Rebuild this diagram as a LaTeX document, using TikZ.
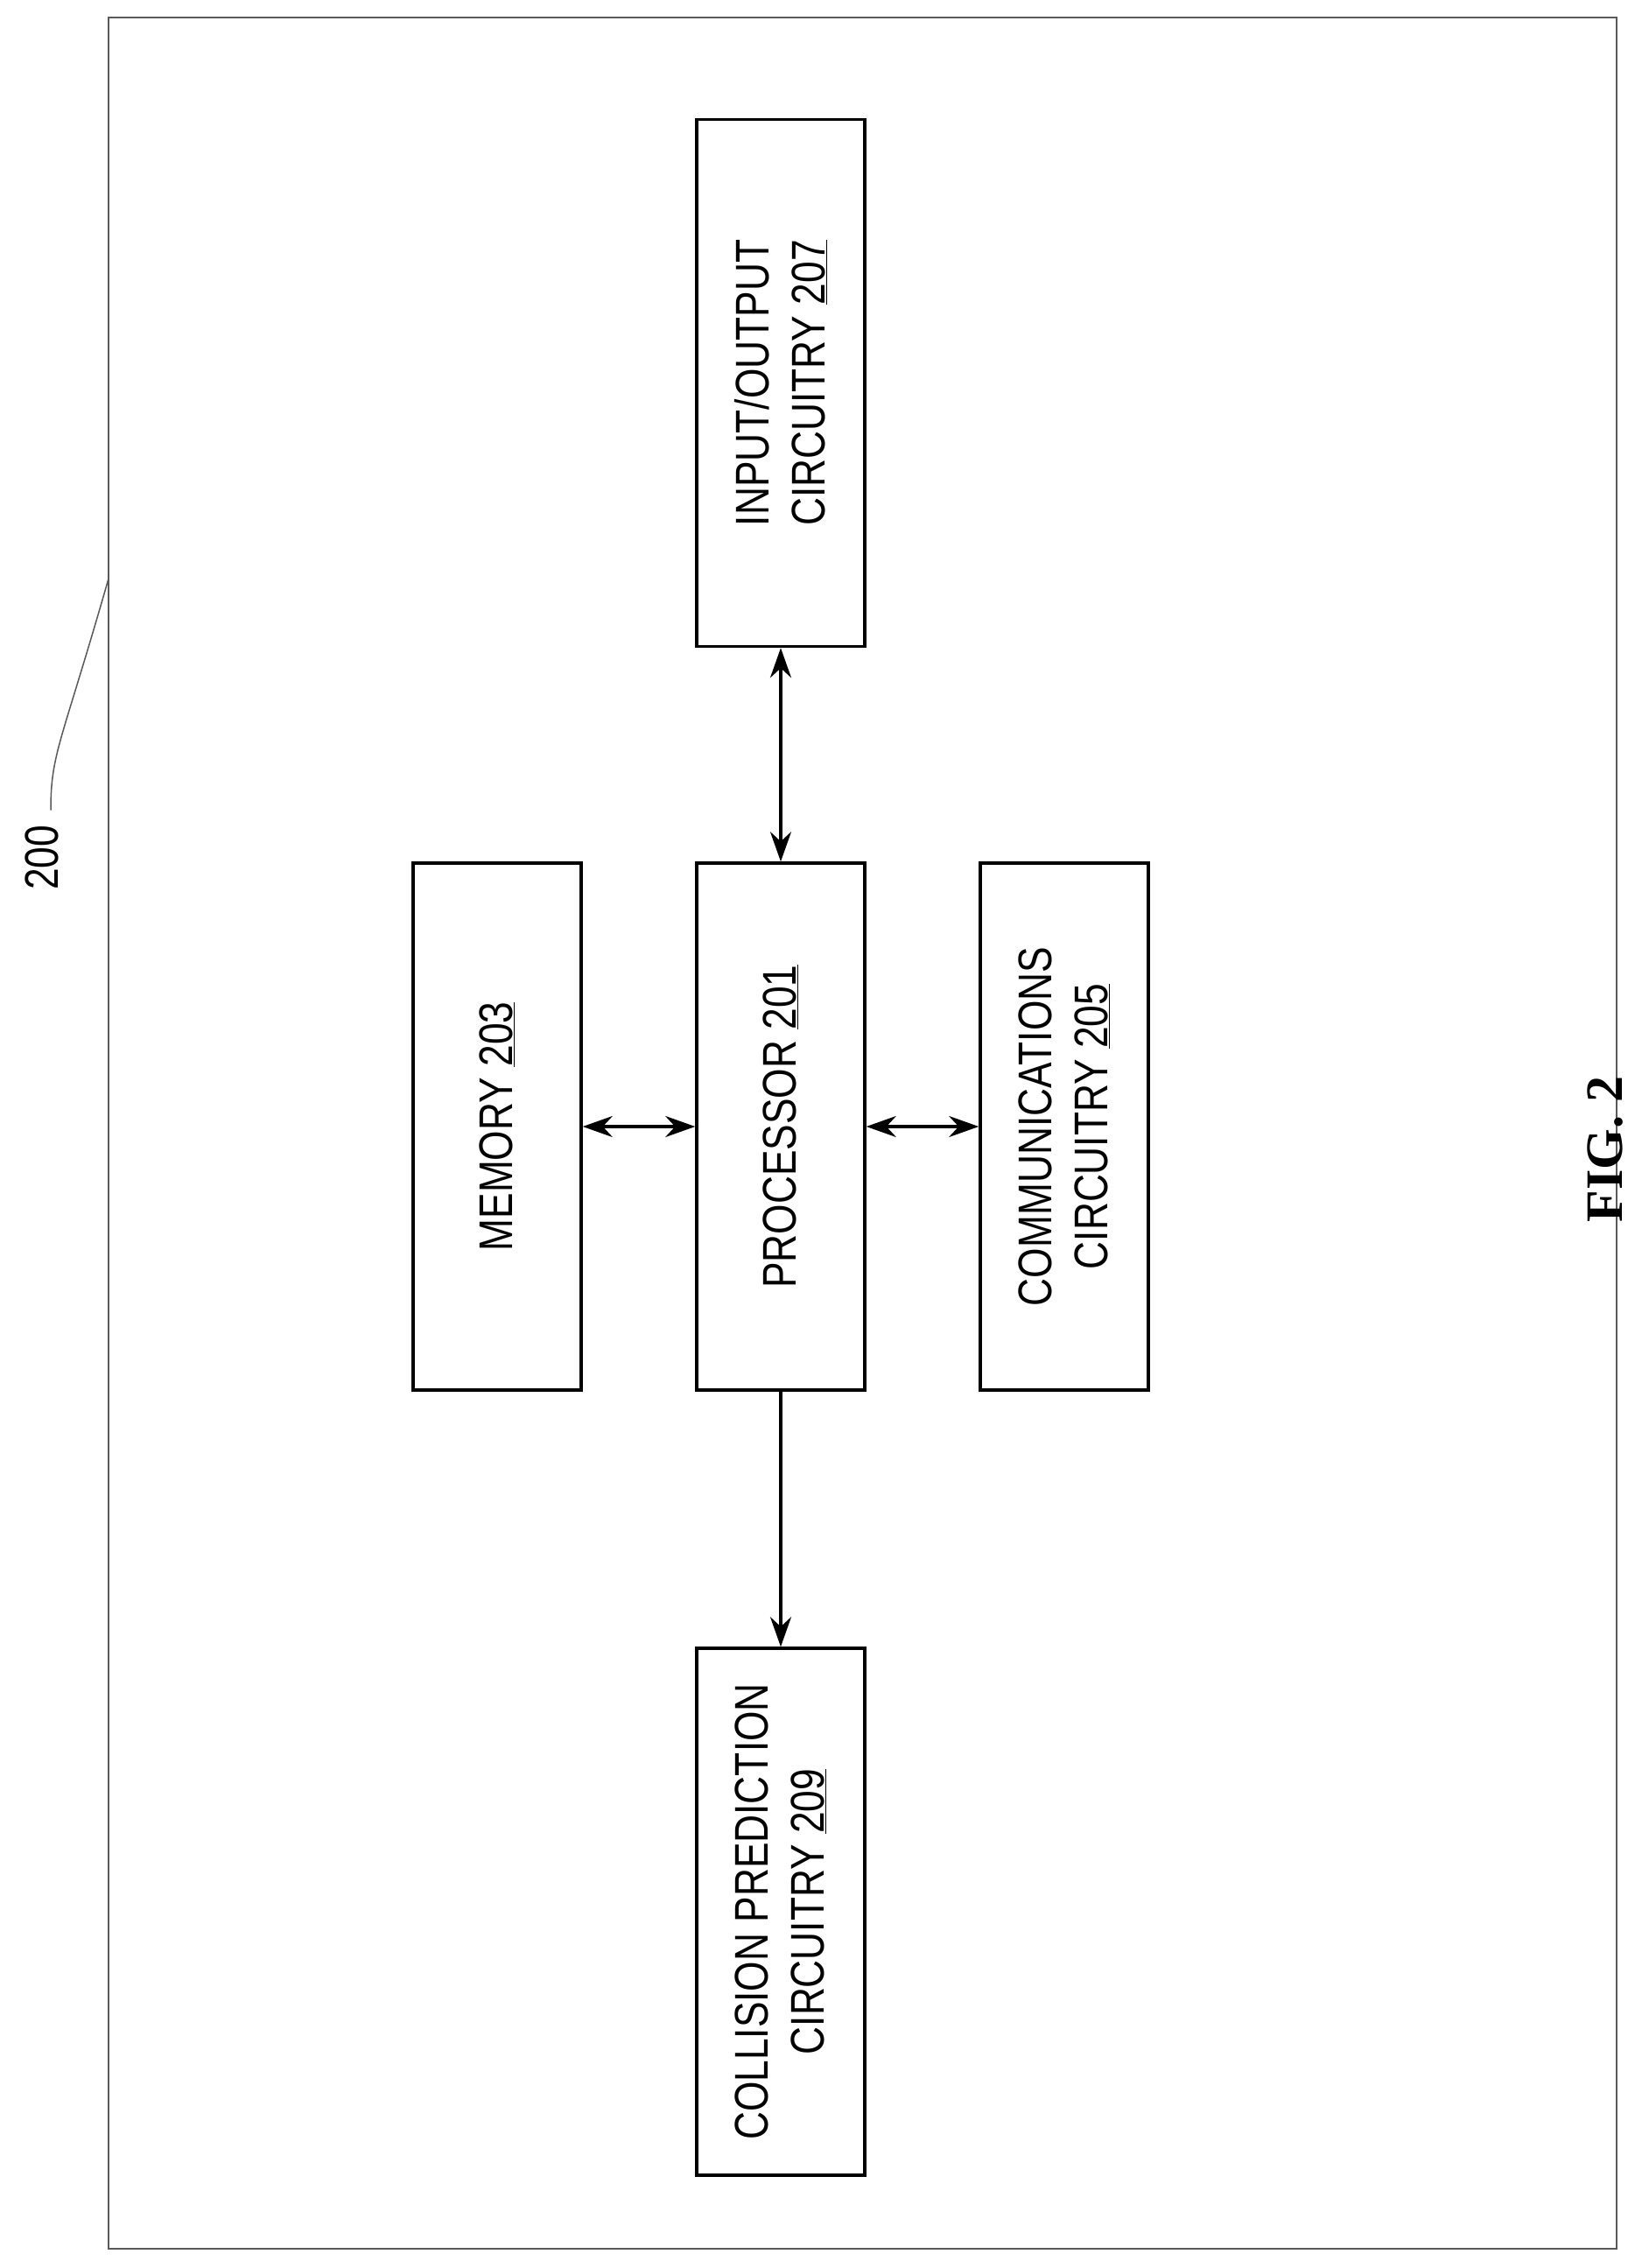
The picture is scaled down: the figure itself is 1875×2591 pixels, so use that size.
\documentclass[tikz,border=0pt]{standalone}
\usepackage{fontspec}
\setmainfont{Liberation Sans}
\newfontfamily\narrowf[FakeStretch=0.82]{Liberation Sans}
\newfontfamily\figf{Liberation Serif}
\usetikzlibrary{arrows.meta}
\begin{document}
\begin{tikzpicture}[x=1pt,y=-1pt,
  box/.style={draw,line width=3.5pt,minimum width=602pt,minimum height=192pt,rotate=90,align=center,font=\narrowf\fontsize{54}{64}\selectfont},
  conn/.style={line width=3.5pt,-{Stealth[length=34pt,width=24pt]}},
  biconn/.style={line width=3.5pt,{Stealth[length=34pt,width=24pt]}-{Stealth[length=34pt,width=24pt]}}]
\useasboundingbox (0,0) rectangle (1875,2591);
\draw[line width=1.5pt,gray!70!black] (124,20) rectangle (1847,2569);
\node[box] (io) at (892,437.5) {INPUT/OUTPUT\\CIRCUITRY \underline{207}};
\node[box] (mem) at (568,1287) {MEMORY \underline{203}};
\node[box] (proc) at (892,1287) {PROCESSOR \underline{201}};
\node[box] (com) at (1216,1287) {COMMUNICATIONS\\CIRCUITRY \underline{205}};
\node[box] (col) at (892,2184) {COLLISION PREDICTION\\CIRCUITRY \underline{209}};
\draw[biconn] (proc.east) -- (io.west);
\draw[biconn] (mem.south) -- (proc.north);
\draw[biconn] (proc.south) -- (com.north);
\draw[conn] (proc.west) -- (col.east);
\node[rotate=90,font=\narrowf\fontsize{54}{64}\selectfont] (lbl) at (48,980) {200};
\coordinate (fr) at (124,661);
\draw[line width=1.5pt,gray!70!black] (lbl.east) ++(10,-14) .. controls (58,860) and (70,850) .. (fr);
\node[rotate=90,font=\figf\bfseries\fontsize{60}{70}\selectfont] (fig) at (1834,1313) {FIG. 2};
\end{tikzpicture}
\end{document}
